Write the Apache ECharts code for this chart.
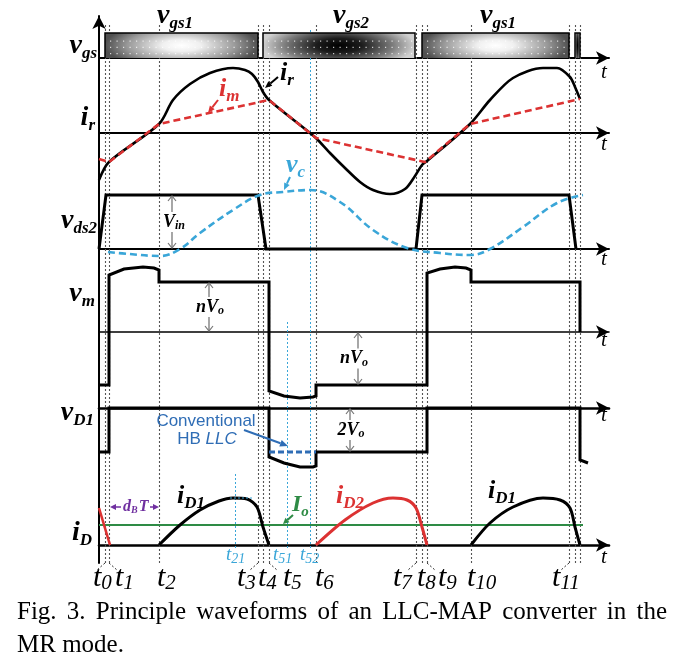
<!DOCTYPE html>
<html><head><meta charset="utf-8">
<script src="https://cdn.jsdelivr.net/npm/echarts@6/dist/echarts.min.js"></script>
<style>html,body{margin:0;padding:0;background:#fff}#c{width:685px;height:666px}</style>
</head><body><div id="c"></div>
<script>
// ---------------- data (time axis in arbitrary units, values relative to each trace's zero line) ----------------
const tMarks = [6, 10, 60, 159, 164, 170, 217, 317, 323, 328, 372, 470, 476, 481];
const tSubs  = ['0','1','2','3','4','5','6','7','8','9','10','11','',''];
const cyanMarks = [136, 188, 211];
const cyanSubs  = ['21','51','52'];
const gateOn   = [6, 164, 323, 476];
const gateOff  = [159, 316, 470, 481];
const gateKind = [1, 2, 1, 2];           // 1 = vgs1, 2 = vgs2
const gateLevel = 25;
const ir   = [[0,-47],[10,-29],[60,9],[74,33],[91,49],[111,60],[134,65],[146,63],[153,59],[159,51],[164,41],[170,33],[211,0],[217,-5],[231,-20],[246,-35],[261,-49],[274,-57],[291,-61],[306,-56],[316,-43],[323,-32],[328,-28],[371,9],[391,33],[414,55],[444,65],[458,65],[471,56],[476,46],[481,34]];
const im   = [[0,-26],[10,-29],[60,9],[170,33],[217,-5],[326,-29],[371,9],[481,34]];
const vds2 = [[0,0],[7,54],[159,54],[167,0],[317,0],[323,54],[470,54],[477,0]];
const vc   = [[9,-3],[30,-5],[61,-7],[81,0],[101,16],[134,39],[161,54],[184,57],[211,59],[241,47],[274,19],[308,1],[341,-4],[371,-6],[391,0],[424,22],[458,46],[484,54]];
const vm   = [[0,-53],[10,-53],[10,57],[25,63],[44,65],[55,64],[60,62],[60,50],[170,50],[170,-59],[185,-64],[201,-66],[214,-65],[217,-64],[217,-53],[328,-53],[328,59],[341,63],[356,65],[367,64],[372,62],[372,50],[481,50],[481,0]];
const vD1  = [[0,-44],[10,-44],[10,0],[170,0],[170,-49],[185,-55],[201,-59],[214,-59],[217,-58],[217,-44],[328,-44],[328,0],[481,0],[481,-52],[489,-55]];
const vD1conv = [[170,-44],[217,-44]];
const iD0  = [[0,37],[11,0]];
const iD1a = [[60,0],[81,20],[101,35],[120,44],[134,47],[148,46],[158,38],[164,18],[170,0]];
const iD2  = [[217,0],[246,25],[274,42],[294,47],[308,45],[317,37],[323,18],[328,0]];
const iD1b = [[372,0],[391,22],[414,38],[444,47],[461,45],[471,37],[476,18],[481,0]];
const Io = 20;
const IoSpan = [0, 484];
const Vin = 54, nVo = 50, nVoNeg = -53, twoVo = -44;

// ---------------- helpers ----------------
const SERIF = '"Liberation Serif","Times New Roman",serif';
const SANS = '"Liberation Sans",Arial,sans-serif';
const cv = document.createElement('canvas').getContext('2d');
function fontStr(size,o){return `${o.style||'normal'} ${o.weight||'normal'} ${size}px ${o.family||SERIF}`;}
function W(text,size,o){cv.font=fontStr(size,o);return cv.measureText(text).width;}
function T(text,x,yMid,size,o){o=o||{};return {type:'text',x:x,y:yMid,z:o.z||20,silent:true,style:{text:text,fill:o.color||'#000',fontSize:size,fontFamily:o.family||SERIF,fontWeight:o.weight||'normal',fontStyle:o.style||'normal',align:'left',textAlign:'left',verticalAlign:'middle',textVerticalAlign:'middle'}};}
function subLabel(main,sub,x,base,F,Fs,o){
  o=o||{};
  const w1=W(main,F,o), w2=sub?W(sub,Fs,o):0, kern=o.kern||0, tot=w1+kern+w2;
  let x0=x; if(o.align==='right')x0=x-tot; else if(o.align==='center')x0=x-tot/2;
  const drop=o.drop!=null?o.drop:Math.round(F*0.16);
  const els=[T(main,x0,base-0.34*F,F,o)];
  if(sub)els.push(T(sub,x0+w1+kern,base+drop-0.34*Fs,Fs,o));
  return els;
}
function arrow(x1,y1,x2,y2,color,w,hl,hw){
  const dx=x2-x1,dy=y2-y1,L=Math.hypot(dx,dy),ux=dx/L,uy=dy/L;
  const bx=x2-ux*hl,by=y2-uy*hl;
  return [{type:'line',z:20,shape:{x1:x1,y1:y1,x2:bx,y2:by},style:{stroke:color,lineWidth:w}},
          {type:'polygon',z:20,shape:{points:[[x2,y2],[bx-uy*hw/2,by+ux*hw/2],[bx+uy*hw/2,by-ux*hw/2]]},style:{fill:color}}];
}

// ---------------- layout ----------------
const X0=99, XW=510, XMAX=510;
const panels=[ // zero-line y, extent up, extent down (1 unit = 1 px)
  {z:58,up:30,down:0,w:2},
  {z:133,up:70,down:65,w:2},
  {z:249,up:60,down:12,w:2},
  {z:332,up:70,down:70,w:1.6},
  {z:408,up:5,down:65,w:2.6},
  {z:545,up:55,down:5,w:2.6}
];
const grids=[],xAxes=[],yAxes=[];
panels.forEach((p,i)=>{
  grids.push({left:X0,width:XW,top:p.z-p.up,height:p.up+p.down});
  xAxes.push({type:'value',gridIndex:i,min:0,max:XMAX,axisLine:{onZero:true,symbol:['none','arrow'],symbolSize:[10,13],lineStyle:{color:'#000',width:p.w}},axisTick:{show:false},axisLabel:{show:false},splitLine:{show:false}});
  yAxes.push({type:'value',gridIndex:i,min:-p.down,max:p.up,show:false,splitLine:{show:false}});
});
// frame grid (marker lines), y axis grid
grids.push({left:X0,width:XW,top:25,height:538});
xAxes.push({type:'value',gridIndex:6,min:0,max:XMAX,show:false});
yAxes.push({type:'value',gridIndex:6,min:0,max:538,show:false});
grids.push({left:X0,width:XW,top:16,height:547});
xAxes.push({type:'value',gridIndex:7,min:0,max:XMAX,show:false});
yAxes.push({type:'value',gridIndex:7,min:0,max:1,axisLine:{show:true,symbol:['none','arrow'],symbolSize:[10,13],lineStyle:{color:'#000',width:2}},axisTick:{show:false},axisLabel:{show:false},splitLine:{show:false}});

function lineS(gi,data,color,width,opts){
  opts=opts||{};
  return Object.assign({type:'line',xAxisIndex:gi,yAxisIndex:gi,data:data,showSymbol:false,symbol:'none',silent:true,animation:false,z:opts.z||5,
    smooth:opts.smooth||false,lineStyle:{color:color,width:width,type:opts.dash||'solid',cap:'butt',join:'miter'}},{});
}
const RED='#dc3232', CYAN='#3aa6d8', BLUE='#2f6db5', GREEN='#2e8b45', PURPLE='#7030a0';

const series=[];
// dotted time marker lines
series.push({type:'custom',xAxisIndex:6,yAxisIndex:6,silent:true,animation:false,z:1,
  data:tMarks.map(t=>[t,0]),
  renderItem:function(params,api){
    const c=params.coordSys; const px=Math.round(api.coord([api.value(0),0])[0])+0.5;
    return {type:'line',shape:{x1:px,y1:c.y,x2:px,y2:c.y+c.height},style:{stroke:'#555',lineWidth:1.1,lineDash:[2,2]}};
  }});
// cyan marker lines
const cyanTop=[91,241,535], cyanBot=15;
series.push({type:'custom',xAxisIndex:6,yAxisIndex:6,silent:true,animation:false,z:1,
  data:cyanMarks.map((t,i)=>[t,cyanBot,cyanTop[i]]),
  renderItem:function(params,api){
    const a=api.coord([api.value(0),api.value(1)]), b=api.coord([api.value(0),api.value(2)]);
    const px=Math.round(a[0])+0.5;
    return {type:'line',shape:{x1:px,y1:a[1],x2:px,y2:b[1]},style:{stroke:CYAN,lineWidth:1,lineDash:[2,2]}};
  }});
// time labels
const tShift=[-12,6,-2,-21,-5,14,-1,-23,-5,11,-4,-17,0,0];
series.push({type:'custom',xAxisIndex:6,yAxisIndex:6,silent:true,animation:false,z:3,
  data:tMarks.map((t,i)=>[t,i]),
  renderItem:function(params,api){
    const i=api.value(1); if(!tSubs[i])return null;
    const c=params.coordSys; const xl=api.coord([api.value(0),0])[0];
    const x=xl+tShift[i]; const ch=subLabel('t',tSubs[i],x,588,30,21,{style:'italic',drop:3});
    if(tShift[i]>3){ch.push({type:'line',shape:{x1:xl,y1:c.y+c.height,x2:xl+8,y2:c.y+c.height+7},style:{stroke:'#333',lineWidth:1,lineDash:[2,2]}});}
    else if(tShift[i]<-9){ch.push({type:'line',shape:{x1:xl,y1:c.y+c.height,x2:xl-8,y2:c.y+c.height+7},style:{stroke:'#333',lineWidth:1,lineDash:[2,2]}});}
    return {type:'group',children:ch};
  }});
const cShift=[-9,-14,-10];
series.push({type:'custom',xAxisIndex:6,yAxisIndex:6,silent:true,animation:false,z:3,
  data:cyanMarks.map((t,i)=>[t,i]),
  renderItem:function(params,api){
    const i=api.value(1); const xl=api.coord([api.value(0),0])[0];
    return {type:'group',children:subLabel('t',cyanSubs[i],xl+cShift[i],561,19,14,{style:'italic',color:CYAN,drop:3})};
  }});
// gate blocks
series.push({type:'custom',xAxisIndex:0,yAxisIndex:0,silent:true,animation:false,z:2,
  data:gateOn.map((s,i)=>[s,gateOff[i],gateKind[i]]),
  renderItem:function(params,api){
    const s=api.value(0),e=api.value(1),k=api.value(2);
    const p0=api.coord([s,gateLevel]),p1=api.coord([e,0]);
    const x=p0[0],y=p0[1],w=p1[0]-p0[0],h=p1[1]-p0[1];
    const sy=(2*h*0.95)/w, H=h/sy;
    const stops=k===1?[{offset:0,color:'#ffffff'},{offset:0.25,color:'#f0f0f0'},{offset:0.7,color:'#9a9a9a'},{offset:1,color:'#505050'}]
                     :[{offset:0,color:'#000000'},{offset:0.3,color:'#1c1c1c'},{offset:0.7,color:'#7a7a7a'},{offset:1,color:'#d0d0d0'}];
    const ch=[{type:'rect',x:x,y:y,scaleY:sy,shape:{x:0,y:0,width:w,height:H},style:{fill:{type:'radial',x:w/2,y:H/2,r:w/2,colorStops:stops,global:true}}}];
    if(w>20){
      [0.3,0.55,0.8].forEach(fr=>{for(let xx=x+5;xx<x+w-3;xx+=6.5){ch.push({type:'rect',shape:{x:xx,y:y+h*fr,width:1.2,height:1.2},style:{fill:'rgba(255,255,255,0.75)'}});}});
    }
    ch.push({type:'polyline',shape:{points:[[x,y+h],[x,y],[x+w,y],[x+w,y+h]]},style:{stroke:'#000',lineWidth:1.5,fill:null}});
    return {type:'group',children:ch};
  }});
// waveforms
series.push(lineS(1,ir,'#000',2.6,{smooth:0.3}));
series.push(lineS(1,im,RED,2.6,{dash:[7,4],z:6}));
series.push(lineS(2,vds2,'#000',3));
series.push(lineS(2,vc,CYAN,2.6,{dash:[7,4],smooth:0.4,z:6}));
series.push(lineS(3,vm,'#000',3));
series.push(lineS(4,vD1,'#000',3));
series.push(lineS(4,vD1conv,BLUE,3,{dash:[6,3],z:6}));
series.push(lineS(5,[[IoSpan[0],Io],[IoSpan[1],Io]],GREEN,2));
series.push(lineS(5,iD0,RED,2.6));
series.push(lineS(5,iD1a,'#000',3,{smooth:0.3}));
series.push(lineS(5,iD2,RED,3,{smooth:0.3}));
series.push(lineS(5,iD1b,'#000',3,{smooth:0.3}));
series.push(lineS(5,[[131,47],[153,47]],CYAN,1,{dash:[2,2]}));
// double-headed dimension arrows
function dimSeries(gi,t,a,b,main,sub,dx){
  return {type:'custom',xAxisIndex:gi,yAxisIndex:gi,silent:true,animation:false,z:7,data:[[t,a,b]],
    renderItem:function(params,api){
      const p1=api.coord([api.value(0),api.value(1)]),p2=api.coord([api.value(0),api.value(2)]);
      const x=p1[0],ym=(p1[1]+p2[1])/2,gap=10,col='#777';
      const d1=p1[1]<p2[1]?-1:1; // outward direction at p1
      const ch=[
        {type:'line',shape:{x1:x,y1:p1[1],x2:x,y2:ym+d1*gap},style:{stroke:col,lineWidth:1.3}},
        {type:'line',shape:{x1:x,y1:p2[1],x2:x,y2:ym-d1*gap},style:{stroke:col,lineWidth:1.3}},
        {type:'polyline',shape:{points:[[x-4,p1[1]-d1*5],[x,p1[1]],[x+4,p1[1]-d1*5]]},style:{stroke:col,lineWidth:1.2,fill:null}},
        {type:'polyline',shape:{points:[[x-4,p2[1]+d1*5],[x,p2[1]],[x+4,p2[1]+d1*5]]},style:{stroke:col,lineWidth:1.2,fill:null}}
      ];
      return {type:'group',children:ch.concat(subLabel(main,sub,x+dx,ym+6,18,12,{weight:'bold',style:'italic',align:'center',drop:2}))};
    }};
}
series.push(dimSeries(2,73,1,Vin-1,'V','in',2));
series.push(dimSeries(3,110,1,nVo-1,'nV','o',1));
series.push(dimSeries(3,259,-1,nVoNeg+1,'nV','o',-4));
series.push(dimSeries(4,251,-1,twoVo+1,'2V','o',1));

// ---------------- static text / annotations ----------------
const BI={weight:'bold',style:'italic'};
let G=[];
G=G.concat(subLabel('v','gs',97,55,28,17,Object.assign({align:'right'},BI)));
G=G.concat(subLabel('i','r',95,127,28,17,Object.assign({align:'right'},BI)));
G=G.concat(subLabel('v','ds2',97,230,28,17,Object.assign({align:'right'},BI)));
G=G.concat(subLabel('v','m',95,303,28,17,Object.assign({align:'right'},BI)));
G=G.concat(subLabel('v','D1',94,422,28,17,Object.assign({align:'right'},BI)));
G=G.concat(subLabel('i','D',92,542,28,17,Object.assign({align:'right'},BI)));
G=G.concat(subLabel('v','gs1',157,25,28,17,BI));
G=G.concat(subLabel('v','gs2',333,25,28,17,BI));
G=G.concat(subLabel('v','gs1',480,25,28,17,BI));
// axis t labels
[80,152,267,348,423,565].forEach(b=>{G.push(T('t',601,b-0.34*21,21,{style:'italic'}));});
// waveform labels
G=G.concat(subLabel('i','r',280,82,26,17,BI));
G=G.concat(arrow(278,77,265,88,'#000',2,7,6));
G=G.concat(subLabel('i','m',219,98,26,17,Object.assign({color:RED},BI)));
G=G.concat(arrow(218,100,208,113,RED,2,7,6));
G=G.concat(subLabel('v','c',286,174,26,17,Object.assign({color:CYAN},BI)));
G=G.concat(arrow(290,177,284,190,CYAN,2,7,6));
G=G.concat(subLabel('i','D1',177,505,26,17,BI));
G=G.concat(subLabel('i','D2',336,505,26,17,Object.assign({color:RED},BI)));
G=G.concat(subLabel('i','D1',488,500,26,17,BI));
G=G.concat(subLabel('I','o',292,513,24,15,Object.assign({color:GREEN},BI)));
G=G.concat(arrow(293,515,283,524,GREEN,2,6,6));
// Conventional HB LLC
(function(){
  const F=17, o={family:SANS,color:BLUE};
  G.push(T('Conventional',206-W('Conventional',F,o)/2,427-0.34*F,F,o));
  const w1=W('HB ',F,o), w2=W('LLC',F,Object.assign({style:'italic'},o));
  const x0=207-(w1+w2)/2;
  G.push(T('HB ',x0,445-0.34*F,F,o));
  G.push(T('LLC',x0+w1,445-0.34*F,F,Object.assign({style:'italic'},o)));
  G=G.concat(arrow(244,430,288,446,BLUE,2,8,7));
})();
// dBT
G=G.concat(arrow(121,507,110,507,PURPLE,1.5,6,6));
G=G.concat(arrow(150,507,159,507,PURPLE,1.5,6,6));
(function(){
  const o=Object.assign({color:PURPLE},BI);
  const wd=W('d',16,o), wb=W('B',10,o);
  G.push(T('d',123,512-0.34*16,16,o));
  G.push(T('B',123+wd,514-0.34*10,10,o));
  G.push(T('T',123+wd+wb+1,512-0.34*16,16,o));
})();
// caption
(function(){
  const F=25, o={};
  const line1='Fig. 3. Principle waveforms of an LLC-MAP converter in the'.split(' ');
  const ws=line1.map(w=>W(w,F,o)); const sum=ws.reduce((a,b)=>a+b,0);
  const gap=(650-sum)/(line1.length-1); let x=17;
  line1.forEach((w,i)=>{G.push(T(w,x,621-0.34*F,F,o)); x+=ws[i]+gap;});
  G.push(T('MR mode.',17,654-0.34*F,F,o));
})();

const chart=echarts.init(document.getElementById('c'),null,{renderer:'canvas',width:685,height:666});
chart.setOption({animation:false,backgroundColor:'#fff',grid:grids,xAxis:xAxes,yAxis:yAxes,series:series,graphic:{elements:G}});
</script></body></html>
